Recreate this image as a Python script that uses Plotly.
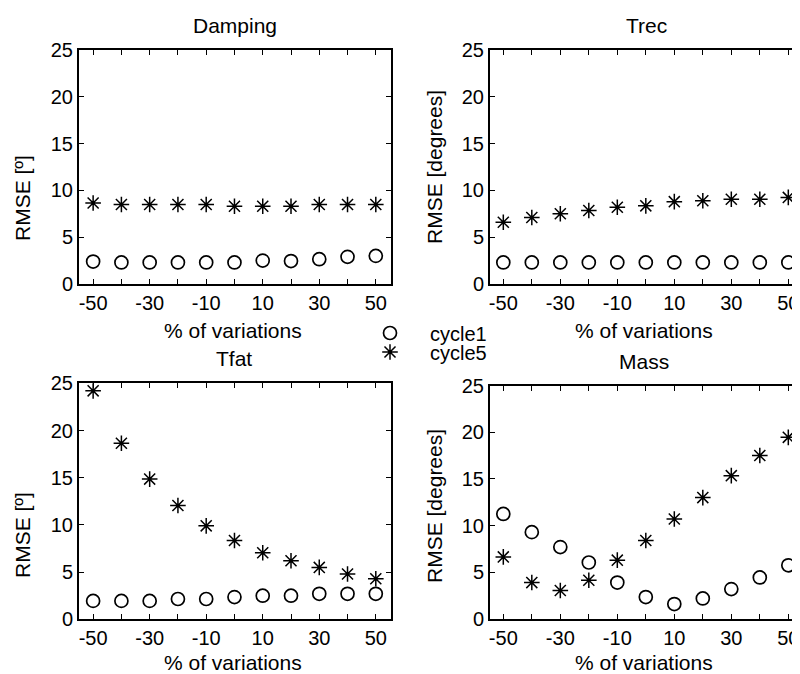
import plotly.graph_objects as go

# ---------------- data ----------------
pct = [-50, -40, -30, -20, -10, 0, 10, 20, 30, 40, 50]
x_tick_vals = [-50, -40, -30, -20, -10, 0, 10, 20, 30, 40, 50]
x_tick_text = ["-50", "", "-30", "", "-10", "", "10", "", "30", "", "50"]
y_tick_vals = [0, 5, 10, 15, 20, 25]

damping_c1 = [2.4, 2.3, 2.3, 2.3, 2.3, 2.3, 2.5, 2.45, 2.65, 2.9, 3.0]
damping_c5 = [8.65, 8.5, 8.5, 8.5, 8.5, 8.3, 8.3, 8.3, 8.5, 8.5, 8.5]
trec_c1 = [2.3, 2.3, 2.3, 2.3, 2.3, 2.3, 2.3, 2.3, 2.3, 2.3, 2.3]
trec_c5 = [6.6, 7.1, 7.5, 7.85, 8.2, 8.35, 8.8, 8.9, 9.05, 9.05, 9.25]
tfat_c1 = [1.95, 1.95, 1.95, 2.15, 2.15, 2.35, 2.5, 2.5, 2.7, 2.7, 2.7]
tfat_c5 = [24.2, 18.65, 14.85, 12.05, 9.9, 8.35, 7.05, 6.2, 5.5, 4.8, 4.3]
mass_c1 = [11.25, 9.3, 7.7, 6.05, 3.9, 2.35, 1.6, 2.2, 3.2, 4.45, 5.75]
mass_c5 = [6.65, 3.9, 3.05, 4.15, 6.3, 8.4, 10.7, 13.0, 15.35, 17.5, 19.45]

panel_titles = ["Damping", "Trec", "Tfat", "Mass"]
y_titles = ["RMSE [º]", "RMSE [degrees]", "RMSE [º]", "RMSE [degrees]"]
x_title = "% of variations"
series_names = ["cycle1", "cycle5"]

# ---------------- layout geometry ----------------
# page body has an 8px margin; figure is sized so it fills the 800x674 window
OFF = 8
W, H = 800 - OFF, 674 - OFF
FONT = "Liberation Sans"
FS = 20
FS_LAB = 21

def px(v):
    return (v - OFF) / W

def py(v):
    return 1 - (v - OFF) / H

panels = [
    dict(xd=(79, 390.5), yd=(50, 284), xr=(-55.0, 55.2)),
    dict(xd=(490, 800), yd=(50, 284), xr=(-54.67, 54.1)),
    dict(xd=(79, 390.5), yd=(383.3, 619.3), xr=(-55.0, 55.2)),
    dict(xd=(490, 800), yd=(385.5, 619), xr=(-54.67, 54.1)),
]

data = [
    (damping_c1, damping_c5),
    (trec_c1, trec_c5),
    (tfat_c1, tfat_c5),
    (mass_c1, mass_c5),
]

fig = go.Figure()

for i, (c1, c5) in enumerate(data):
    n = i + 1
    xa = "x" if n == 1 else f"x{n}"
    ya = "y" if n == 1 else f"y{n}"
    fig.add_trace(go.Scatter(
        x=pct, y=c1, mode="markers", name=series_names[0],
        xaxis=xa, yaxis=ya, showlegend=(i == 0), legend="legend",
        marker=dict(symbol="circle-open", size=13, color="black",
                    line=dict(width=1.7, color="black")),
        hoverinfo="x+y",
    ))
    fig.add_trace(go.Scatter(
        x=pct, y=c5, mode="markers", name=series_names[1],
        xaxis=xa, yaxis=ya, showlegend=(i == 0), legend="legend2",
        marker=dict(symbol="asterisk-open", size=13, color="black",
                    line=dict(width=1.5, color="black")),
        hoverinfo="x+y",
    ))

layout = dict(
    width=W, height=H, autosize=False,
    margin=dict(l=0, r=0, t=0, b=0, autoexpand=False),
    paper_bgcolor="white", plot_bgcolor="white",
    font=dict(family=FONT, size=FS, color="black"),
)

for i, p in enumerate(panels):
    n = i + 1
    xk = "xaxis" if n == 1 else f"xaxis{n}"
    yk = "yaxis" if n == 1 else f"yaxis{n}"
    right = p["xd"][1] >= 800
    layout[xk] = dict(
        domain=[px(p["xd"][0]), min(1.0, px(p["xd"][1]))],
        anchor="y" if n == 1 else f"y{n}",
        range=list(p["xr"]),
        tickmode="array", tickvals=x_tick_vals, ticktext=x_tick_text,
        ticks="inside", ticklen=5, tickwidth=1, tickcolor="black",
        showline=True, linecolor="black", linewidth=2,
        mirror="ticks", showgrid=False, zeroline=False,
        tickfont=dict(family=FONT, size=FS, color="black"),
    )
    layout[yk] = dict(
        domain=[py(p["yd"][1]), py(p["yd"][0])],
        anchor="x" if n == 1 else f"x{n}",
        range=[0, 25],
        tickmode="array", tickvals=y_tick_vals,
        ticks="inside", ticklen=5, tickwidth=1, tickcolor="black",
        showline=True, linecolor="black", linewidth=2,
        mirror=False if right else "ticks", showgrid=False, zeroline=False,
        tickfont=dict(family=FONT, size=FS, color="black"),
    )

# right-side inward ticks for the right panels (spine lies off the canvas)
for n, base in ((5, 2), (6, 4)):
    layout[f"yaxis{n}"] = dict(
        overlaying=f"y{base}", anchor=f"x{base}", side="right",
        range=[0, 25], tickmode="array", tickvals=y_tick_vals,
        ticks="inside", ticklen=3, tickwidth=1, tickcolor="black",
        showline=False, showticklabels=False, showgrid=False, zeroline=False,
    )

layout["legend"] = dict(
    x=px(350), y=py(333), xanchor="left", yanchor="middle",
    itemwidth=70, bgcolor="rgba(0,0,0,0)", borderwidth=0,
    font=dict(family=FONT, size=FS, color="black"),
)
layout["legend2"] = dict(
    x=px(350), y=py(352), xanchor="left", yanchor="middle",
    itemwidth=70, bgcolor="rgba(0,0,0,0)", borderwidth=0,
    font=dict(family=FONT, size=FS, color="black"),
)

ann = []
title_pos = [(235, 25), (646, 25), (234, 358), (644, 361)]
for t, (x, y) in zip(panel_titles, title_pos):
    ann.append(dict(text=t, x=px(x), y=py(y), xref="paper", yref="paper",
                    xanchor="center", yanchor="middle", showarrow=False,
                    font=dict(family=FONT, size=FS_LAB, color="black")))
xt_pos = [(233, 330), (644, 330), (233, 662), (644, 662)]
for (x, y) in xt_pos:
    ann.append(dict(text=x_title, x=px(x), y=py(y), xref="paper", yref="paper",
                    xanchor="center", yanchor="middle", showarrow=False,
                    font=dict(family=FONT, size=FS_LAB, color="black")))
yt_pos = [(22, 198), (434, 167), (22, 535), (434, 506)]
for t, (x, y) in zip(y_titles, yt_pos):
    ann.append(dict(text=t, x=px(x), y=py(y), xref="paper", yref="paper",
                    xanchor="center", yanchor="middle", showarrow=False,
                    textangle=-90,
                    font=dict(family=FONT, size=FS_LAB, color="black")))
layout["annotations"] = ann

fig.update_layout(**layout)
fig.write_html("out.html")
